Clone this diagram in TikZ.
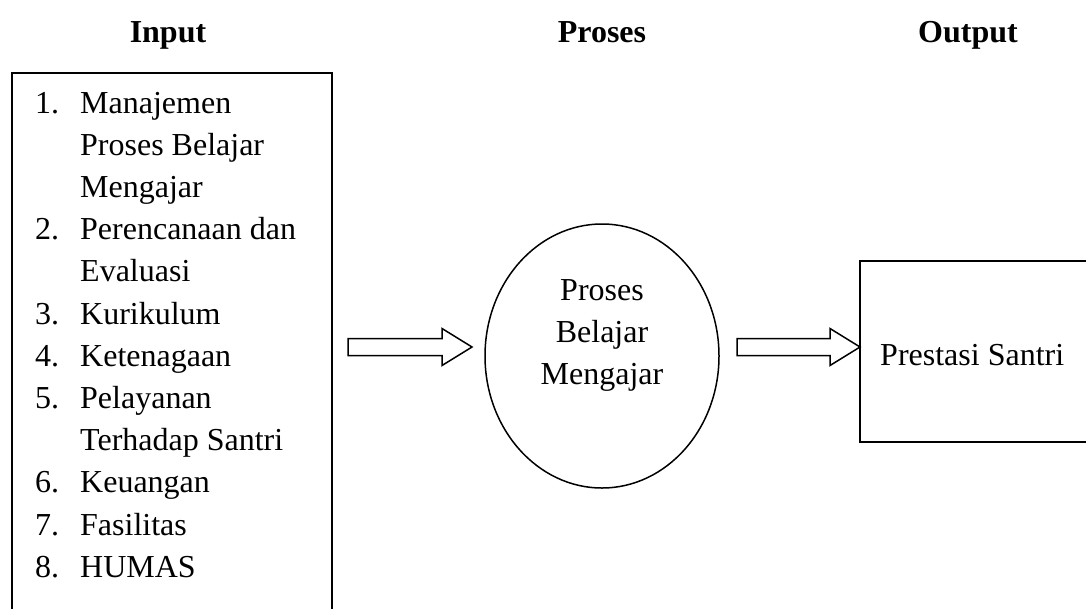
\documentclass[tikz,border=0pt]{standalone}
\usepackage{fontspec}
\setmainfont{Liberation Serif}
\usetikzlibrary{shapes.geometric,calc}
\tikzset{
  frame/.style={draw, line width=1.5pt, inner sep=0pt, outer sep=0pt},
  blk/.style={draw, line width=1.5pt, fill=white, line join=miter},
  ttl/.style={font=\fontsize{32}{42.2}\selectfont\bfseries, anchor=base, inner sep=0pt},
  txt/.style={font=\fontsize{32}{42.2}\selectfont, inner sep=0pt}
}
\newcommand{\blkarrow}[2]{%
  \draw[blk] ($(#1)+(0,-8.5)$) -- ($(#2)+(-30,-8.5)$) -- ($(#2)+(-30,-18.5)$) -- (#2)
    -- ($(#2)+(-30,18.5)$) -- ($(#2)+(-30,8.5)$) -- ($(#1)+(0,8.5)$) -- cycle;}
\begin{document}
\begin{tikzpicture}[x=1pt,y=-1pt]
\useasboundingbox (0,0) rectangle (1086,608);
\clip (0,0) rectangle (1086,608);
% titles
\node[ttl] (tin) at (168,42) {Input};
\node[ttl] (tpr) at (602,42) {Proses};
\node[ttl] (tout) at (968,42) {Output};
% input box
\node[frame, anchor=north west, minimum width=320pt, minimum height=600pt] (inbox) at (12,73) {};
\node[txt, anchor=base west] (inlist) at (35,113) {%
\fontsize{32}{42.2}\selectfont
\begin{tabular}[t]{@{}p{45pt}@{}l@{}}
1. & Manajemen\\
   & Proses Belajar\\
   & Mengajar\\
2. & Perencanaan dan\\
   & Evaluasi\\
3. & Kurikulum\\
4. & Ketenagaan\\
5. & Pelayanan\\
   & Terhadap Santri\\
6. & Keuangan\\
7. & Fasilitas\\
8. & HUMAS
\end{tabular}};
% process ellipse
\node[frame, ellipse, minimum width=234pt, minimum height=264pt] (proc) at (602,356) {};
\node[txt, anchor=base] (proctext) at (602,300) {%
\fontsize{32}{42.2}\selectfont
\begin{tabular}[t]{@{}c@{}}Proses\\Belajar\\Mengajar\end{tabular}};
% output box
\node[frame, anchor=north west, minimum width=260pt, minimum height=181pt] (outbox) at (860,261) {};
\node[txt, anchor=base west] (outtext) at (880,365) {Prestasi Santri};
% block arrows
\coordinate (a1s) at (348,347);
\coordinate (a1e) at ($(proc.west |- a1s)+(-13,0)$);
\coordinate (a2s) at (737,347);
\coordinate (a2e) at (outbox.west |- a2s);
\blkarrow{a1s}{a1e}
\blkarrow{a2s}{a2e}
\end{tikzpicture}
\end{document}
